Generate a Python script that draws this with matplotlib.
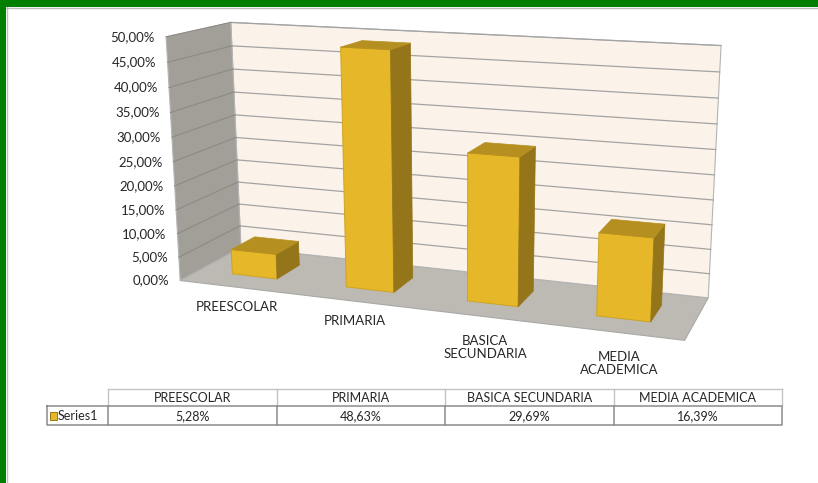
import matplotlib
matplotlib.use("Agg")
import matplotlib.pyplot as plt
from matplotlib.patches import Polygon, Rectangle
import numpy as np

# Data
categories = ["PREESCOLAR", "PRIMARIA", "BASICA SECUNDARIA", "MEDIA ACADEMICA"]
axis_labels = ["PREESCOLAR", "PRIMARIA", "BASICA\nSECUNDARIA", "MEDIA\nACADEMICA"]
values = [0.0528, 0.4863, 0.2969, 0.1639]
series_name = "Series1"
value_ticks = [0.0, 0.05, 0.10, 0.15, 0.20, 0.25, 0.30, 0.35, 0.40, 0.45, 0.50]

# Colours
FRONT = "#E6B729"
TOP = "#B58F1F"
SIDE = "#957519"
EDGE = "#CFA322"
BACK_WALL = "#FBF3EA"
LEFT_WALL = "#A29F98"
FLOOR = "#BDBAB3"
GREEN = "#007F00"

plt.rcParams["font.family"] = ["Lato", "DejaVu Sans"]

W, H = 818, 483
fig = plt.figure(figsize=(W / 100, H / 100), dpi=100)
ax = fig.add_axes([0, 0, 1, 1])
ax.set_xlim(0, W)
ax.set_ylim(H, 0)
ax.axis("off")

n_cat = len(categories)
vmax = value_ticks[-1]


# Fit a projective camera to where the plot box corners sit in the picture
def fitCamera(world, screen):
    rows = []
    for (X, Y, Z), (x, y) in zip(world, screen / 100.0):
        rows.append([X, Y, Z, 1, 0, 0, 0, 0, -x * X, -x * Y, -x * Z, -x])
        rows.append([0, 0, 0, 0, X, Y, Z, 1, -y * X, -y * Y, -y * Z, -y])
    _, _, vt = np.linalg.svd(np.array(rows, dtype=float))
    return vt[-1].reshape(3, 4)


# world coords: x = category slot, y = depth (0 front, 1 back), z = value
box_world = np.array([[0, 0, 0], [n_cat, 0, 0], [n_cat, 1, 0], [0, 1, 0],
                      [0, 1, vmax], [n_cat, 1, vmax], [0, 0, vmax]], dtype=float)
box_screen = np.array([[180, 277], [685, 343], [708, 295], [241, 251],
                       [231, 21], [721, 46], [166, 38]], dtype=float)
box_world[:, 2] *= n_cat / vmax
P = fitCamera(box_world, box_screen)


def proj(pts):
    pts = np.array(pts, dtype=float)
    pts = np.atleast_2d(pts).copy()
    pts[:, 2] *= n_cat / vmax
    h = np.c_[pts, np.ones(len(pts))] @ P.T
    return h[:, :2] / h[:, 2:3] * 100.0


def face(pts, color, edge=None, lw=0.0, z=1):
    ax.add_patch(Polygon(proj(pts), closed=True, facecolor=color,
                         edgecolor=edge if edge else color, lw=lw, zorder=z,
                         joinstyle="round"))


# Green frame
ax.add_patch(Rectangle((0, 0), W, 7, color=GREEN, zorder=10, lw=0))
ax.add_patch(Rectangle((0, 0), 6, H, color=GREEN, zorder=10, lw=0))
ax.plot([6, W], [7.5, 7.5], color="#BDBDBD", lw=1, zorder=9)
ax.plot([6.5, 6.5], [7, H], color="#BDBDBD", lw=1, zorder=9)

# Floor and walls
face([[0, 0, 0], [n_cat, 0, 0], [n_cat, 1, 0], [0, 1, 0]], FLOOR, "#A8A8A8", 0.8)
face([[0, 1, 0], [n_cat, 1, 0], [n_cat, 1, vmax], [0, 1, vmax]], BACK_WALL, "#B4B4B4", 0.8)
face([[0, 0, 0], [0, 1, 0], [0, 1, vmax], [0, 0, vmax]], LEFT_WALL, "#B4B4B4", 0.8)

# Gridlines
for v in value_ticks[1:]:
    back = proj([[0, 1, v], [n_cat, 1, v]])
    ax.plot(back[:, 0], back[:, 1], color="#A3A3A3", lw=0.9, zorder=2)
    side = proj([[0, 0, v], [0, 1, v]])
    ax.plot(side[:, 0], side[:, 1], color="#8D8A84", lw=0.8, zorder=2)

# Bars
gap = 0.3
d0, d1 = 0.3, 0.7
for i, v in enumerate(values):
    x0, x1 = i + gap, i + 1 - gap
    face([[x0, d0, 0], [x1, d0, 0], [x1, d0, v], [x0, d0, v]], FRONT, EDGE, 0.7, 3)
    face([[x1, d0, 0], [x1, d1, 0], [x1, d1, v], [x1, d0, v]], SIDE, SIDE, 0.5, 3)
    face([[x0, d0, v], [x1, d0, v], [x1, d1, v], [x0, d1, v]], TOP, TOP, 0.5, 3)

# Value axis labels
for v in value_ticks:
    x, y = proj([0, 0, v])[0]
    lab = f"{v * 100:.2f}%".replace(".", ",")
    ax.text(x - 11, y, lab, ha="right", va="center", fontsize=9.5, color="#262626")

# Category labels along the front edge
for i, lab in enumerate(axis_labels):
    x, y = proj([i + 0.5, 0, 0])[0]
    extra = 5 * lab.count("\n")
    ax.text(x + extra, y + 14 + extra, lab, ha="center", va="top", fontsize=9.5,
            color="#262626", linespacing=1.1)

# Data table
col_edges = np.linspace(108, 782, n_cat + 1)
key_left = 47
row_top, row_mid, row_bot = 389, 406, 425
light, dark = "#C4C4C4", "#8C8C8C"

ax.plot([col_edges[0], col_edges[-1]], [row_top, row_top], color=light, lw=1, zorder=5)
for xe in col_edges:
    ax.plot([xe, xe], [row_top, row_mid], color=light, lw=1, zorder=5)
ax.plot([key_left, col_edges[-1], col_edges[-1], key_left, key_left],
        [row_mid, row_mid, row_bot, row_bot, row_mid], color=dark, lw=1.1, zorder=6)
for xe in col_edges[:-1]:
    ax.plot([xe, xe], [row_mid, row_bot], color=dark, lw=1.1, zorder=6)

for j, cat in enumerate(categories):
    cx = (col_edges[j] + col_edges[j + 1]) / 2
    ax.text(cx, (row_top + row_mid) / 2 + 0.5, cat, ha="center", va="center",
            fontsize=9, color="#262626")
    ax.text(cx, (row_mid + row_bot) / 2 + 0.5, f"{values[j] * 100:.2f}%".replace(".", ","),
            ha="center", va="center", fontsize=9, color="#262626")

ax.add_patch(Rectangle((50, 412), 6.5, 7.5, facecolor=FRONT, edgecolor="#9A7A17",
                       lw=0.7, zorder=7))
ax.text(58, (row_mid + row_bot) / 2 + 0.5, series_name, ha="left", va="center",
        fontsize=9, color="#262626")

fig.savefig("out.png", dpi=100)
